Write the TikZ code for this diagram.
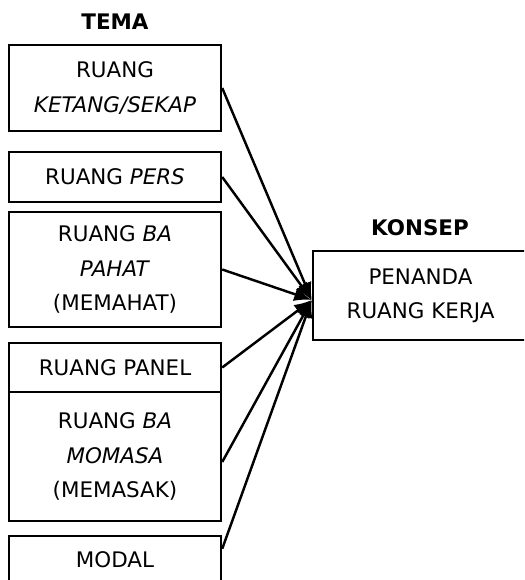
\documentclass[tikz,border=0pt]{standalone}
\usepackage{fontspec}
\setmainfont{DejaVu Sans}
\usetikzlibrary{arrows.meta}
\begin{document}
\begin{tikzpicture}[x=0.02cm, y=-0.02cm,
		kotak/.style={draw, line width=1.4pt, align=center, minimum width=4.24cm, inner sep=0pt, font=\fontsize{12.2}{19.5}\selectfont},
		judul/.style={font=\fontsize{12.2}{14}\selectfont\bfseries},
		panah/.style={line width=1.4pt, -{Latex[length=10pt,width=8pt]}}]
			\useasboundingbox (0,0) rectangle (524,580);
			\clip (0,0) rectangle (524,580);

			\node[judul] at (115,22) (tema) {TEMA};
			\node[judul] at (420,228) (konsep) {KONSEP};

			\node[kotak, minimum height=1.72cm] at (115,88) (ketang) {RUANG\\\textit{KETANG/SEKAP}};
			\node[kotak, minimum height=1.0cm] at (115,177) (pers) {RUANG \textit{PERS}};
			\node[kotak, minimum height=2.3cm] at (115,269.5) (pahat) {RUANG \textit{BA}\\\textit{PAHAT}\\(MEMAHAT)};
			\node[kotak, minimum height=0.98cm] at (115,367.5) (panel) {RUANG PANEL};
			\node[kotak, minimum height=2.58cm] at (115,456.5) (momasa) {RUANG \textit{BA}\\\textit{MOMASA}\\(MEMASAK)};
			\node[kotak, minimum height=0.96cm] at (115,560) (modal) {MODAL};

			\node[kotak, minimum width=4.3cm, minimum height=1.78cm] at (420.5,295.5) (penanda) {PENANDA\\RUANG KERJA};
			\coordinate (ujung) at ([yshift=-0.09cm]penanda.west);

			\path
			(ketang.east) edge[panah] (ujung)
			(pers.east) edge[panah] (ujung)
			(pahat.east) edge[panah] (ujung)
			(panel.east) edge[panah] (ujung)
			([yshift=-0.11cm]momasa.east) edge[panah] (ujung)
			([yshift=-0.28cm]modal.north east) edge[panah] (ujung);
		\end{tikzpicture}
\end{document}
